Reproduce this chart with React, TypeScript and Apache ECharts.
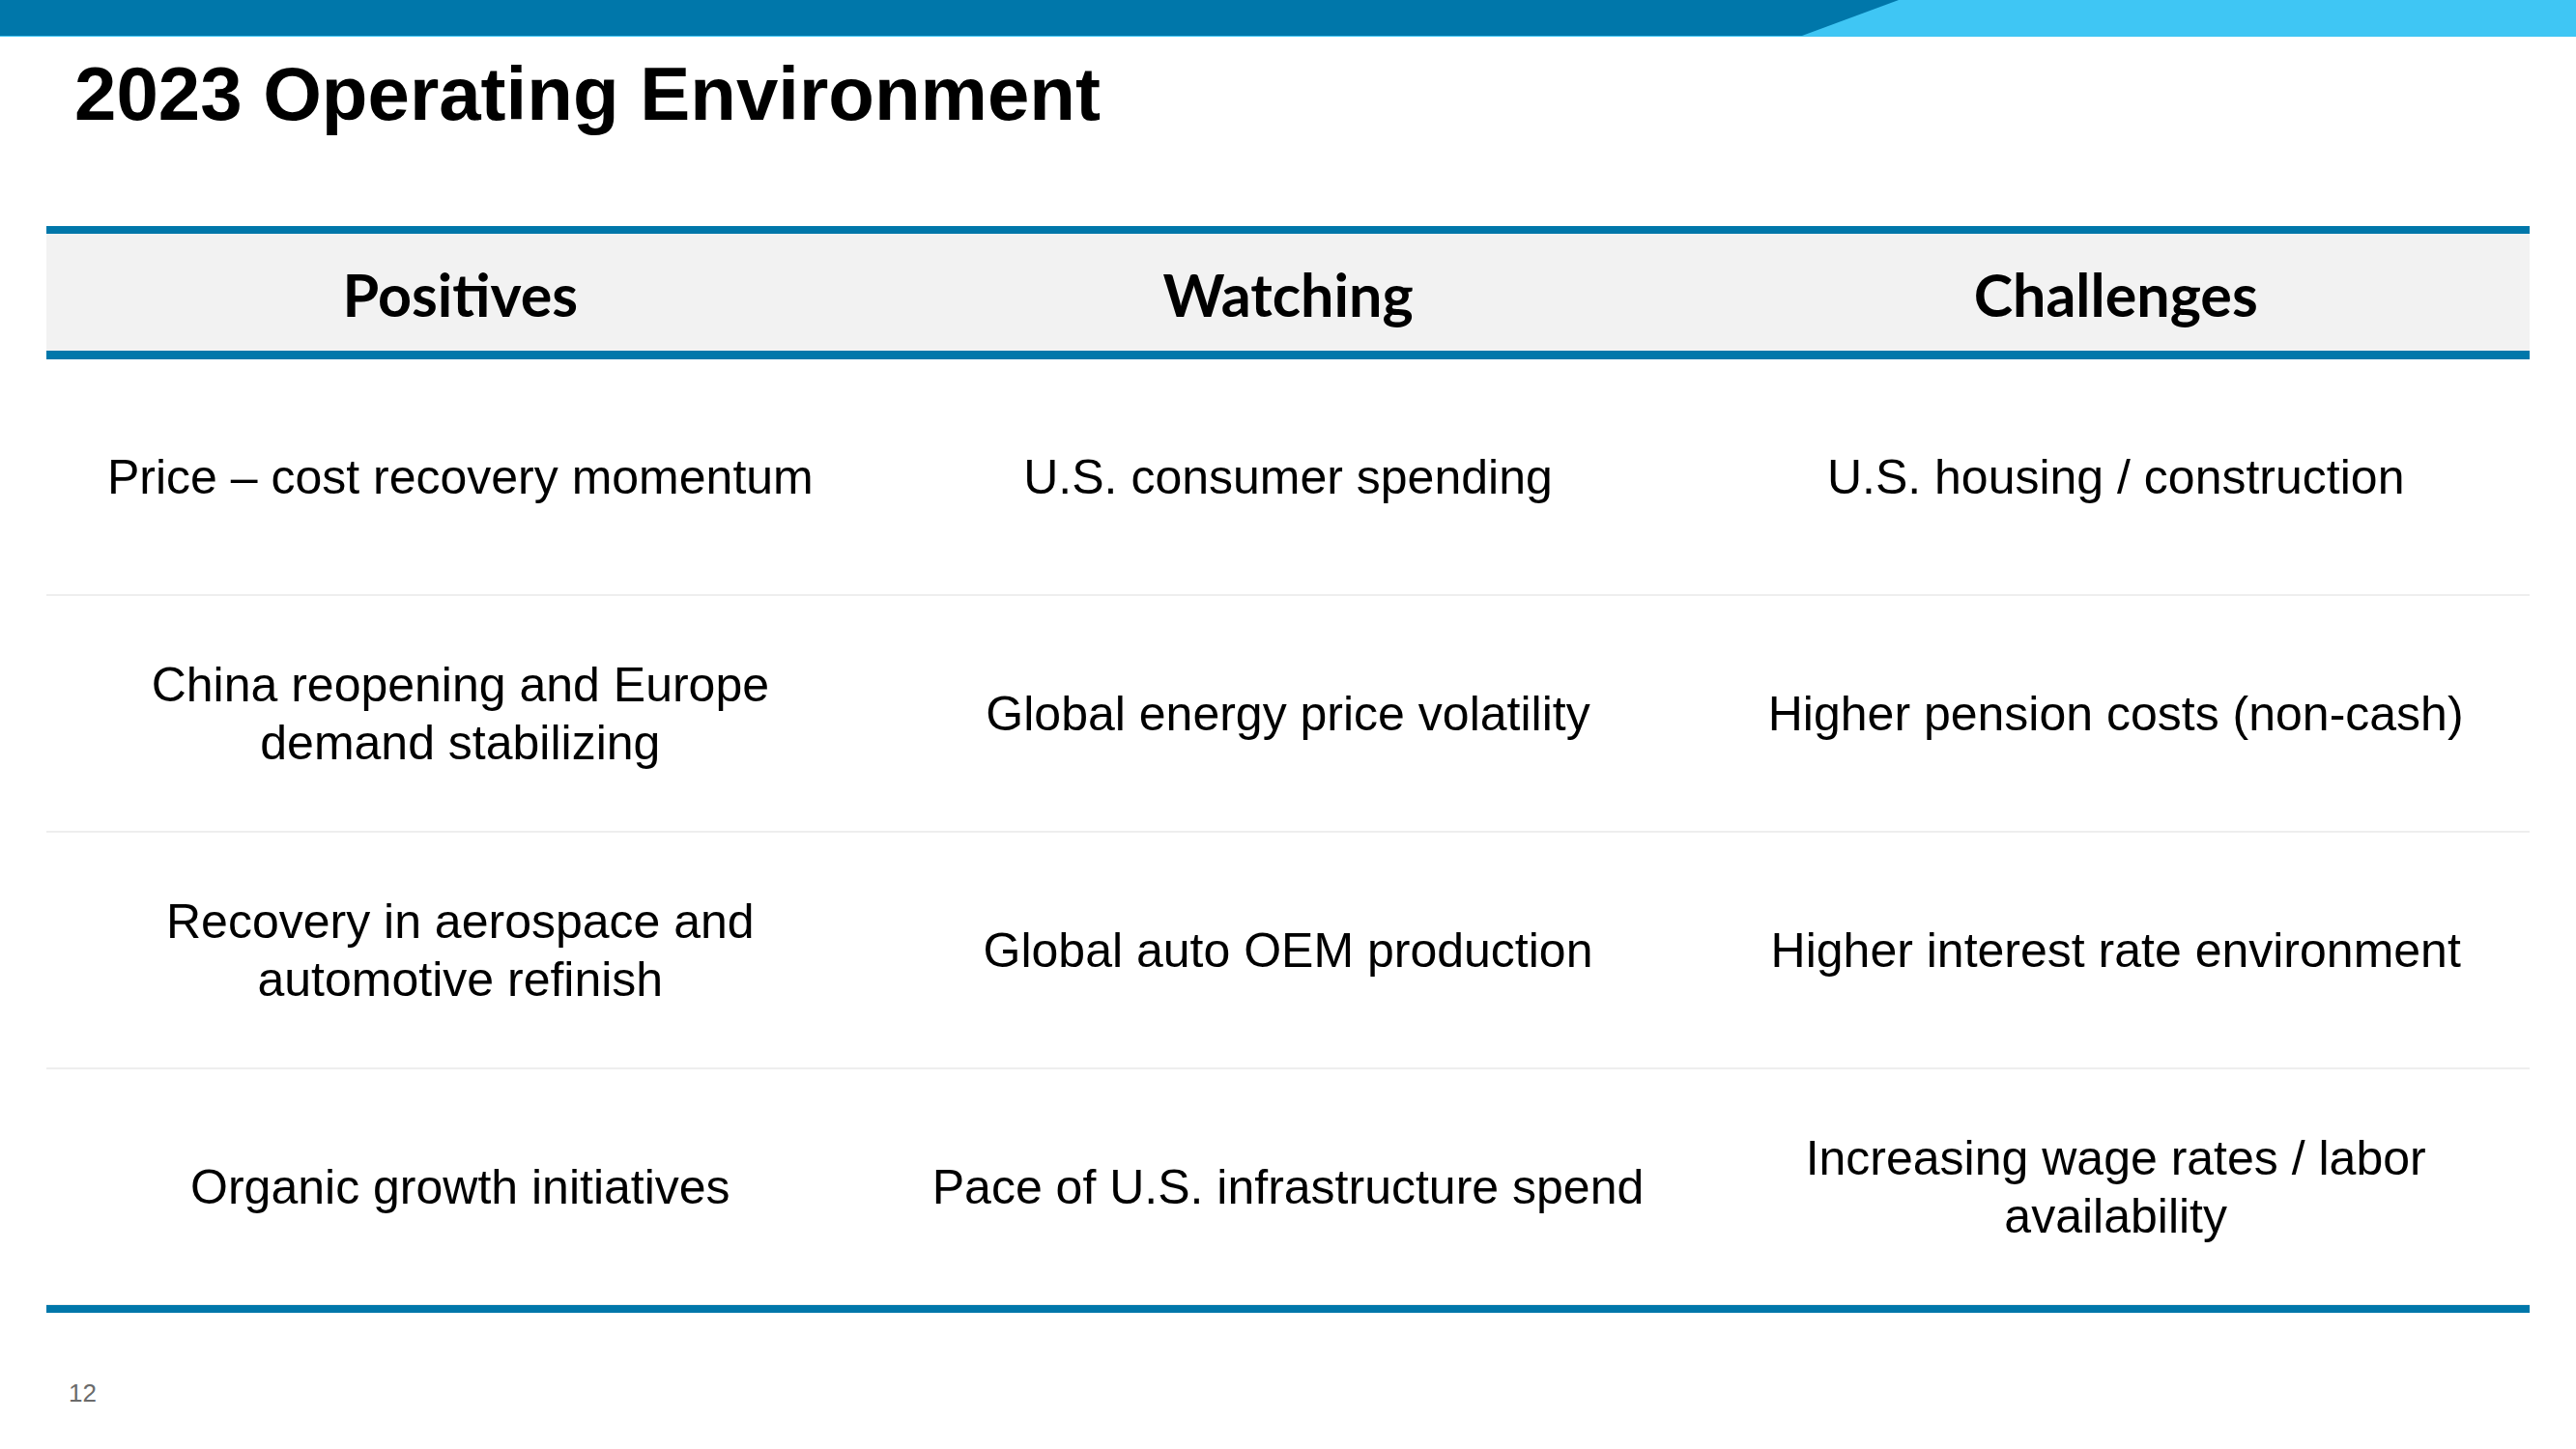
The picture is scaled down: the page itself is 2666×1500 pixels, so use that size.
import React, { useEffect, useRef } from "react";
import * as echarts from "echarts";

// ---- content ----
const titleText = "2023 Operating Environment";
const pageNumber = "12";
const headers = ["Positives", "Watching", "Challenges"];
const rowKeys = ["r1", "r2", "r3", "r4"];
const positives = [
  "Price – cost recovery momentum",
  "China reopening and Europe\ndemand stabilizing",
  "Recovery in aerospace and\nautomotive refinish",
  "Organic growth initiatives",
];
const watching = [
  "U.S. consumer spending",
  "Global energy price volatility",
  "Global auto OEM production",
  "Pace of U.S. infrastructure spend",
];
const challenges = [
  "U.S. housing / construction",
  "Higher pension costs (non-cash)",
  "Higher interest rate environment",
  "Increasing wage rates / labor\navailability",
];

// ---- layout / style ----
const W = 2666;
const H = 1500;
const DARK = "#0077AA";
const LIGHT = "#3FC6F4";
const TABLE_L = 48;
const TABLE_R = 2618;
const HEAD_TOP = 234;
const HEAD_BOT = 371;
const TABLE_BOT = 1359;
const LINE_W = 8;

export default function App() {
  const ref = useRef<HTMLDivElement>(null);

  useEffect(() => {
    document.body.style.margin = "0";
    if (!ref.current) return;
    const chart = echarts.init(ref.current, null, { renderer: "svg" });

    const columns = [positives, watching, challenges];
    const cells: any[] = [];
    columns.forEach((col, ci) => {
      col.forEach((txt, ri) => {
        cells.push({ value: [ci, ri], name: txt });
      });
    });

    const tableW = TABLE_R - TABLE_L;

    chart.setOption({
      animation: false,
      backgroundColor: "#ffffff",
      grid: {
        left: TABLE_L,
        right: W - TABLE_R,
        top: HEAD_BOT,
        bottom: H - (TABLE_BOT - LINE_W),
        containLabel: false,
      },
      xAxis: {
        type: "category",
        data: headers,
        position: "top",
        z: 10,
        axisLine: { show: false },
        axisTick: { show: false },
        splitLine: { show: false },
        axisLabel: {
          show: true,
          interval: 0,
          margin: 67,
          verticalAlign: "middle",
          fontFamily: "Lato",
          fontWeight: "bold",
          fontSize: 61,
          color: "#000000",
        },
      },
      yAxis: {
        type: "category",
        data: rowKeys,
        inverse: true,
        axisLine: { show: false },
        axisTick: { show: false },
        axisLabel: { show: false },
        splitLine: {
          show: true,
          interval: 0,
          lineStyle: { color: "#EEEEEE", width: 2 },
        },
      },
      series: [
        {
          type: "scatter",
          data: cells,
          symbolSize: 1,
          itemStyle: { color: "rgba(255,255,255,0)", opacity: 1 },
          label: {
            show: true,
            position: "inside",
            formatter: (p: any) => p.name,
            fontFamily: "Liberation Sans, Arial, sans-serif",
            fontSize: 50,
            lineHeight: 60,
            color: "#000000",
            opacity: 1,
            textBorderWidth: 0,
            align: "center",
            verticalAlign: "middle",
          },
          silent: true,
        },
      ],
      graphic: [
        // top banner
        { type: "rect", z: 50, shape: { x: 0, y: 0, width: W, height: 38 }, style: { fill: LIGHT } },
        {
          type: "polygon",
          z: 51,
          shape: { points: [[0, 0], [1965, 0], [1865, 37], [0, 37]] },
          style: { fill: DARK },
        },
        // title
        {
          type: "text",
          z: 52,
          x: 77,
          y: 97,
          style: {
            text: titleText,
            fill: "#000000",
            font: "bold 78px 'Liberation Sans', Arial, sans-serif",
            verticalAlign: "middle",
            align: "left",
          },
        },
        // header background
        {
          type: "rect",
          z: 1,
          shape: { x: TABLE_L, y: HEAD_TOP + LINE_W, width: tableW, height: HEAD_BOT - LINE_W - HEAD_TOP - LINE_W },
          style: { fill: "#F2F2F2" },
        },
        // header top line
        {
          type: "rect",
          z: 60,
          shape: { x: TABLE_L, y: HEAD_TOP, width: tableW, height: LINE_W },
          style: { fill: DARK },
        },
        // header bottom line
        {
          type: "rect",
          z: 60,
          shape: { x: TABLE_L, y: HEAD_BOT - LINE_W, width: tableW, height: LINE_W + 1 },
          style: { fill: DARK },
        },
        // table bottom line
        {
          type: "rect",
          z: 60,
          shape: { x: TABLE_L, y: TABLE_BOT - LINE_W, width: tableW, height: LINE_W },
          style: { fill: DARK },
        },
        // page number
        {
          type: "text",
          z: 52,
          x: 71,
          y: 1442,
          style: {
            text: pageNumber,
            fill: "#6B6B6B",
            font: "26px 'Liberation Sans', Arial, sans-serif",
            verticalAlign: "middle",
            align: "left",
          },
        },
      ],
    });

    return () => {
      chart.dispose();
    };
  }, []);

  return (
    <div
      ref={ref}
      style={{ position: "absolute", left: 0, top: 0, width: W, height: H }}
    />
  );
}
